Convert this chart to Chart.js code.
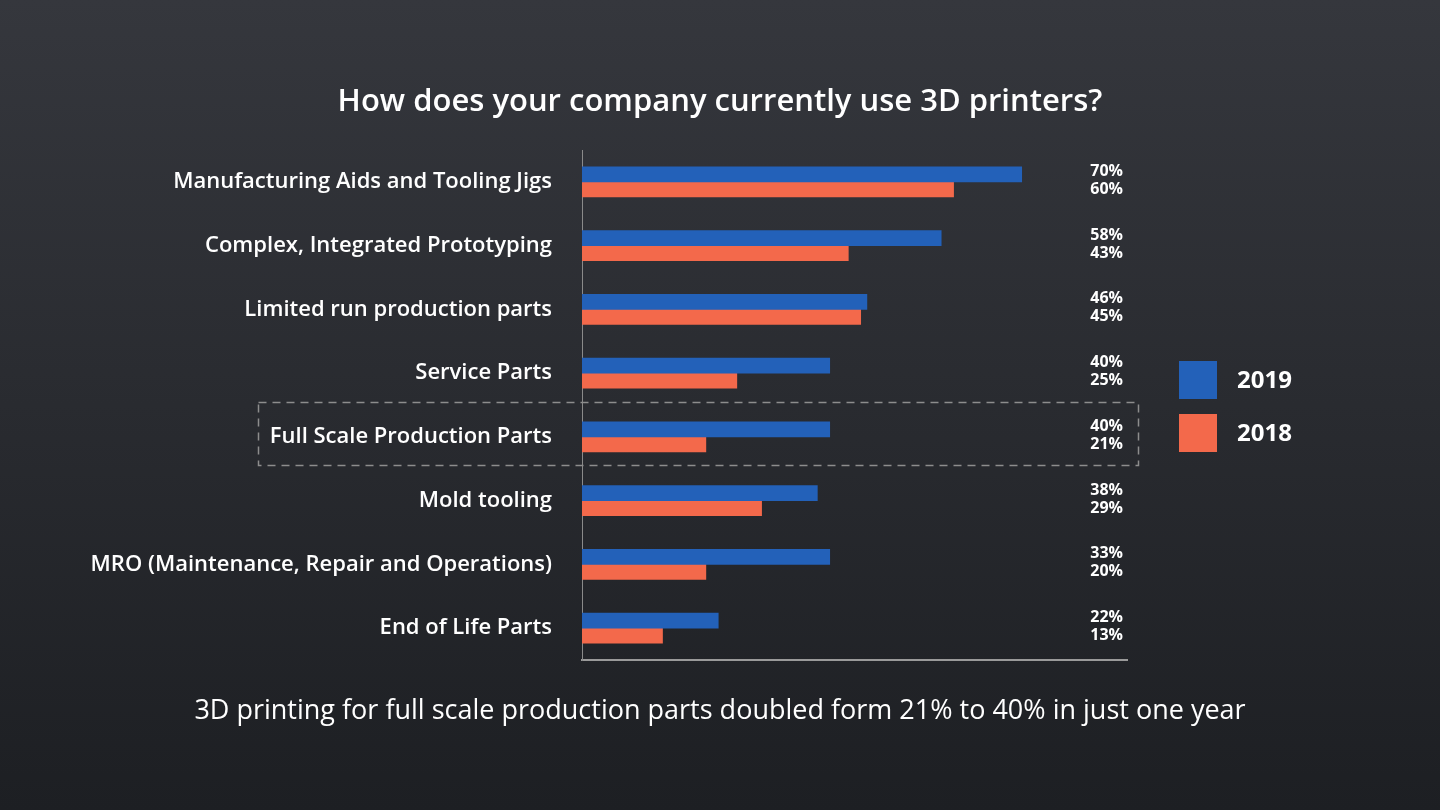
<!DOCTYPE html>
<html>
<head>
<meta charset="utf-8">
<script src="https://cdn.jsdelivr.net/npm/chart.js@4.4.1/dist/chart.umd.min.js"></script>
<style>
  html, body { margin: 0; padding: 0; background: #2a2c31; }
  #wrap { width: 1440px; height: 810px; position: relative; }
</style>
</head>
<body>
<div id="wrap"><canvas id="c" width="1440" height="810"></canvas></div>
<script>
const categories = [
  "Manufacturing Aids and Tooling Jigs",
  "Complex, Integrated Prototyping",
  "Limited run production parts",
  "Service Parts",
  "Full Scale Production Parts",
  "Mold tooling",
  "MRO (Maintenance, Repair and Operations)",
  "End of Life Parts"
];
const series2019 = [71, 58, 46, 40, 40, 38, 40, 22];
const series2018 = [60, 43, 45, 25, 20, 29, 20, 13];
const labels2019 = ["70%", "58%", "46%", "40%", "40%", "38%", "33%", "22%"];
const labels2018 = ["60%", "43%", "45%", "25%", "21%", "29%", "20%", "13%"];
const seriesNames = ["2019", "2018"];
const highlightIndex = 4;
const titleText = "How does your company currently use 3D printers?";
const footText = "3D printing for full scale production parts doubled form 21% to 40% in just one year";

const BLUE = "#2361b9";
const ORANGE = "#f3694b";
const FONT = "'Open Sans', Lato, sans-serif";

const decor = {
  id: "decor",
  beforeDraw(chart) {
    const { ctx, width, height } = chart;
    const g = ctx.createLinearGradient(0, 0, 0, height);
    g.addColorStop(0, "#35373d");
    g.addColorStop(1, "#1d1f23");
    ctx.save();
    ctx.fillStyle = g;
    ctx.fillRect(0, 0, width, height);
    ctx.restore();
  },
  afterDraw(chart) {
    const { ctx } = chart;
    const y = chart.scales.y;
    ctx.save();
    // title
    ctx.fillStyle = "#ffffff";
    ctx.textAlign = "center";
    ctx.textBaseline = "middle";
    ctx.font = "600 31px " + FONT;
    ctx.fillText(titleText, 720, 102);
    // footnote
    ctx.font = "400 27px " + FONT;
    ctx.fillText(footText, 720, 711);
    // value labels
    ctx.font = "700 16px " + FONT;
    ctx.textAlign = "right";
    const m0 = chart.getDatasetMeta(0).data;
    const m1 = chart.getDatasetMeta(1).data;
    for (let i = 0; i < categories.length; i++) {
      ctx.fillText(labels2019[i], 1123, m0[i].y - 3);
      ctx.fillText(labels2018[i], 1123, m1[i].y);
    }
    // legend
    const colors = [BLUE, ORANGE];
    const ly = [361, 414];
    ctx.font = "700 24px " + FONT;
    ctx.textAlign = "left";
    for (let k = 0; k < 2; k++) {
      ctx.fillStyle = colors[k];
      ctx.fillRect(1179, ly[k], 38, 38);
      ctx.fillStyle = "#ffffff";
      ctx.fillText(seriesNames[k], 1237, ly[k] + 20);
    }
    // dashed highlight box
    const yc = y.getPixelForValue(highlightIndex);
    ctx.strokeStyle = "#8d8d8d";
    ctx.lineWidth = 1.5;
    ctx.setLineDash([8, 6]);
    ctx.strokeRect(258.5, Math.round(yc - 35) + 0.5, 880, 63);
    ctx.restore();
  }
};

new Chart(document.getElementById("c"), {
  type: "bar",
  data: {
    labels: categories,
    datasets: [
      { label: seriesNames[0], data: series2019, backgroundColor: BLUE, barThickness: 15 },
      { label: seriesNames[1], data: series2018, backgroundColor: ORANGE, barThickness: 15 }
    ]
  },
  options: {
    indexAxis: "y",
    responsive: false,
    animation: false,
    devicePixelRatio: 1,
    layout: { padding: { top: 150, bottom: 150, right: 313, left: 0 } },
    plugins: {
      legend: { display: false },
      tooltip: { enabled: false },
      title: { display: false }
    },
    scales: {
      x: {
        min: 0,
        max: 88,
        grid: { display: false, drawTicks: false },
        ticks: { display: false },
        border: { display: true, color: "#9a9a9a", width: 2 },
        afterFit(s) { s.height = 0; }
      },
      y: {
        grid: { display: false, drawTicks: false },
        border: { display: true, color: "#8a8a8a", width: 1 },
        ticks: {
          color: "#ffffff",
          padding: 30,
          font: { family: FONT, size: 22, weight: "600" }
        },
        afterFit(s) { s.width = 582; }
      }
    }
  },
  plugins: [decor]
});
</script>
</body>
</html>
